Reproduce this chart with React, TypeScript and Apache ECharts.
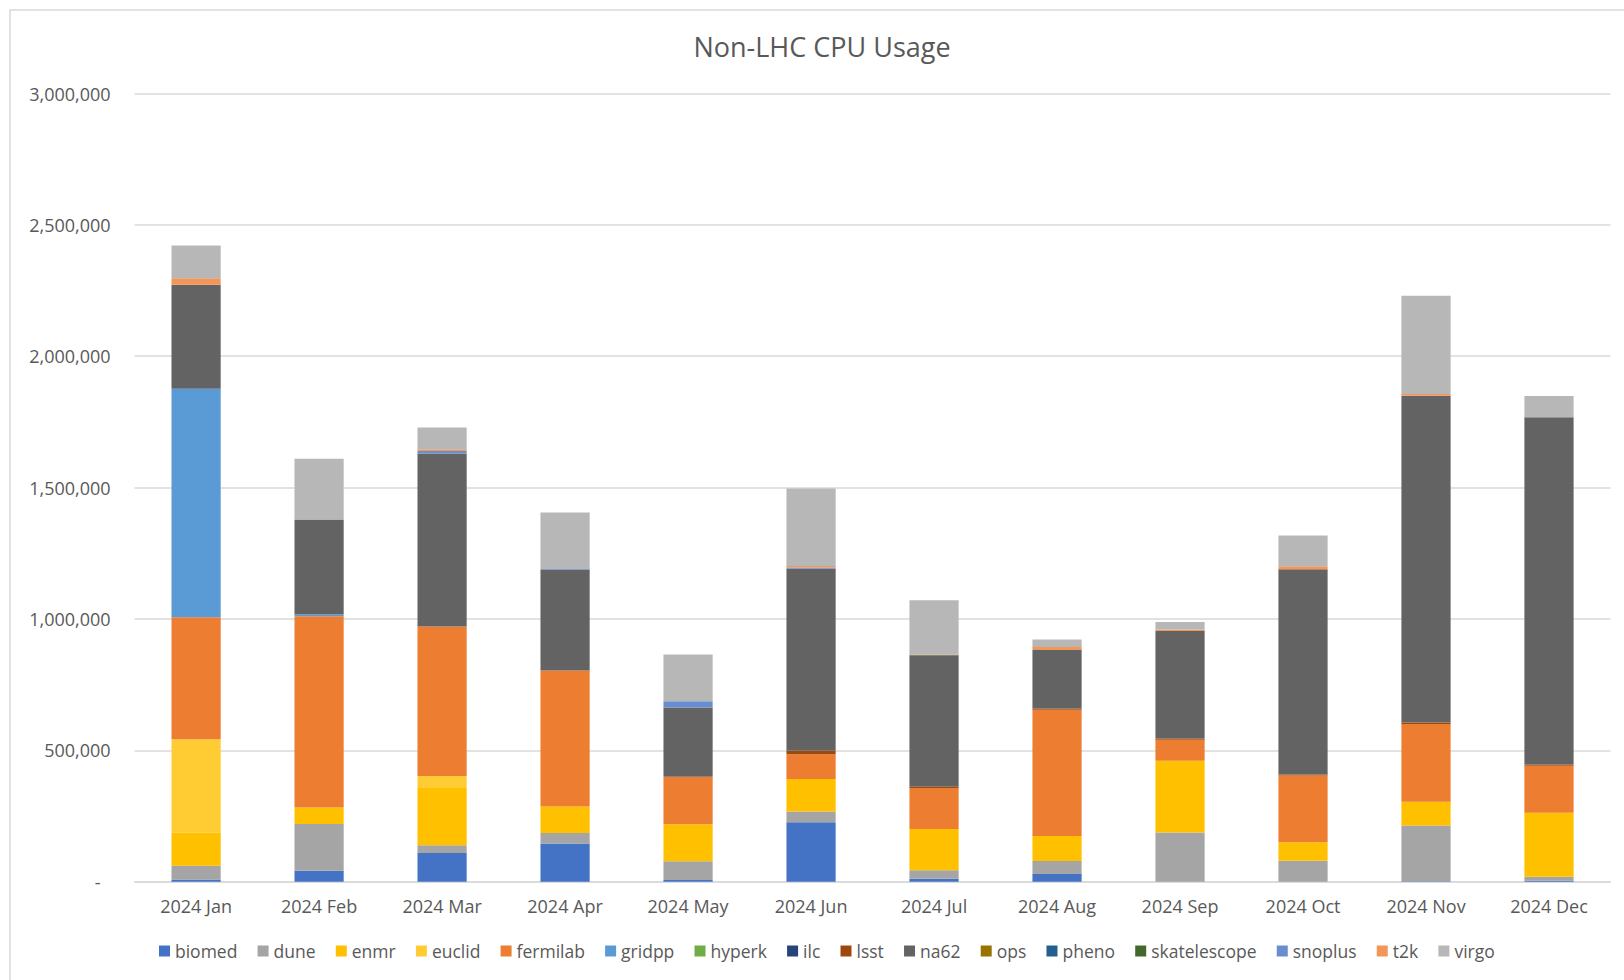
import React, { useEffect, useRef } from "react";
import * as echarts from "echarts";

const months = ["2024 Jan", "2024 Feb", "2024 Mar", "2024 Apr", "2024 May", "2024 Jun", "2024 Jul", "2024 Aug", "2024 Sep", "2024 Oct", "2024 Nov", "2024 Dec"];

const seriesNames = ["biomed", "dune", "enmr", "euclid", "fermilab", "gridpp", "hyperk", "ilc", "lsst", "na62", "ops", "pheno", "skatelescope", "snoplus", "t2k", "virgo"];

const biomed = [8000, 42000, 109000, 145000, 6000, 226000, 11000, 29000, 0, 0, 2000, 4000];
const dune = [53000, 178000, 30000, 40000, 72000, 41000, 33000, 50000, 187000, 80000, 212000, 15000];
const enmr = [125000, 62000, 218000, 101000, 141000, 124000, 157000, 95000, 273000, 70000, 90000, 243000];
const euclid = [356000, 0, 45000, 0, 0, 0, 0, 0, 0, 0, 0, 0];
const fermilab = [465000, 728000, 569000, 518000, 180000, 94000, 156000, 480000, 80000, 254000, 296000, 179000];
const gridpp = [869000, 7000, 0, 0, 0, 0, 0, 0, 0, 0, 0, 0];
const hyperk = [0, 0, 0, 0, 0, 0, 0, 0, 0, 0, 0, 0];
const ilc = [0, 0, 0, 0, 0, 0, 0, 0, 0, 0, 0, 0];
const lsst = [0, 0, 0, 0, 0, 13000, 4000, 5000, 5000, 4000, 6000, 5000];
const na62 = [396000, 362000, 659000, 383000, 264000, 693000, 501000, 223000, 409000, 781000, 1244000, 1322000];
const ops = [0, 0, 0, 0, 0, 0, 2000, 0, 0, 0, 0, 0];
const pheno = [0, 0, 0, 0, 0, 0, 0, 0, 0, 0, 0, 0];
const skatelescope = [0, 0, 0, 0, 0, 0, 0, 0, 0, 0, 0, 0];
const snoplus = [0, 0, 9000, 3000, 24000, 5000, 0, 0, 0, 0, 0, 0];
const t2k = [25000, 0, 7000, 0, 0, 6000, 0, 11000, 6000, 12000, 6000, 0];
const virgo = [124000, 231000, 83000, 215000, 178000, 295000, 207000, 29000, 28000, 117000, 374000, 81000];

const seriesData = [biomed, dune, enmr, euclid, fermilab, gridpp, hyperk, ilc, lsst, na62, ops, pheno, skatelescope, snoplus, t2k, virgo];

const colors = ["#4472C4", "#A5A5A5", "#FFC000", "#FFCD33", "#ED7D31", "#5B9BD5", "#70AD47", "#264478", "#9E480E", "#636363", "#997300", "#255E91", "#43682B", "#698ED0", "#F1975A", "#B7B7B7"];

const FONT = "'Open Sans', sans-serif";
const TEXT = "#595959";

export default function App() {
  const ref = useRef<HTMLDivElement>(null);
  useEffect(() => {
    if (!ref.current) return;
    const chart = echarts.init(ref.current, null, { renderer: "svg" });
    const option = {
      animation: false,
      backgroundColor: "#ffffff",
      color: colors,
      textStyle: { fontFamily: FONT },
      graphic: [
        {
          type: "rect",
          silent: true,
          z: -10,
          shape: { x: 10, y: 10, width: 1700, height: 1100 },
          style: { fill: "none", stroke: "#d9d9d9", lineWidth: 1.5 },
        },
        {
          type: "text",
          x: 822,
          y: 46,
          style: {
            text: "Non-LHC CPU Usage",
            fill: TEXT,
            font: `27px ${FONT}`,
            textAlign: "center",
            textVerticalAlign: "middle",
          },
        },
      ],
      legend: {
        data: seriesNames,
        left: 154,
        top: 937,
        icon: "rect",
        itemWidth: 11,
        itemHeight: 11,
        itemGap: 20.2,
        textStyle: { color: TEXT, fontSize: 17.5, fontFamily: FONT },
      },
      grid: { left: 134.6, right: 13.5, top: 93.5, bottom: 98.3, containLabel: false },
      xAxis: {
        type: "category",
        data: months,
        axisLine: { lineStyle: { color: "#d9d9d9", width: 1.5 } },
        axisTick: { show: false },
        axisLabel: { color: TEXT, fontSize: 18, fontFamily: FONT, margin: 15 },
      },
      yAxis: {
        type: "value",
        min: 0,
        max: 3000000,
        interval: 500000,
        axisLine: { show: false },
        axisTick: { show: false },
        splitLine: { lineStyle: { color: "#d9d9d9", width: 1.5 } },
        axisLabel: {
          color: TEXT,
          fontSize: 18,
          fontFamily: FONT,
          margin: 24,
          formatter: (v: number) => (v === 0 ? "{z|-}" : v.toLocaleString("en-US")),
          rich: { z: { color: TEXT, fontSize: 18, fontFamily: FONT, padding: [0, 10, 0, 0] } },
        },
      },
      series: seriesNames.map((name, i) => ({
        name,
        type: "bar",
        stack: "total",
        barWidth: "40%",
        data: seriesData[i],
        itemStyle: { color: colors[i] },
      })),
    };
    chart.setOption(option);
    return () => chart.dispose();
  }, []);
  return (
    <div
      ref={ref}
      style={{ position: "fixed", left: 0, top: 0, width: 1624, height: 980, background: "#fff" }}
    />
  );
}
